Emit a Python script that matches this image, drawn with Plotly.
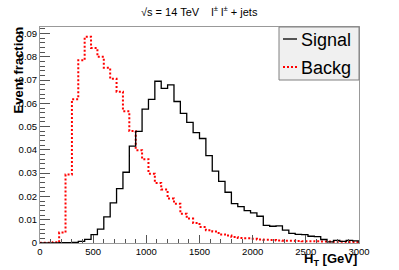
import plotly.graph_objects as go

# ---- data ----
bin_low = 0
bin_high = 3000
n_bins = 50
signal = [0, 0, 0, 0.0001, 0.0001, 0.0003, 0.0007, 0.0016, 0.0036, 0.0060,
          0.0112, 0.0172, 0.0234, 0.0304, 0.0416, 0.0480, 0.0575, 0.0617, 0.0695, 0.0664,
          0.0679, 0.0608, 0.0557, 0.0518, 0.0474, 0.0449, 0.0375, 0.0309, 0.0265, 0.0218,
          0.0169, 0.0156, 0.0139, 0.0129, 0.0115, 0.0076, 0.0072, 0.0074, 0.0055, 0.0041,
          0.0037, 0.0036, 0.0029, 0.0027, 0.0015, 0.0005, 0.0011, 0.0007, 0.0011, 0.0009]
backg = [0.0001, 0.0001, 0.0003, 0.0045, 0.0294, 0.0618, 0.0785, 0.0886, 0.0838, 0.0800,
         0.0753, 0.0706, 0.0650, 0.0566, 0.0481, 0.0399, 0.0360, 0.0298, 0.0258, 0.0230,
         0.0191, 0.0169, 0.0126, 0.0105, 0.0086, 0.0069, 0.0055, 0.0049, 0.0037, 0.0032,
         0.0026, 0.0021, 0.0020, 0.0018, 0.0015, 0.0014, 0.0013, 0.0011, 0.0010, 0.0010,
         0.0009, 0.0008, 0.0008, 0.0007, 0.0006, 0.0006, 0.0005, 0.0005, 0.0004, 0.0004]
x_ticks = [0, 500, 1000, 1500, 2000, 2500, 3000]
y_ticks = [0, 0.01, 0.02, 0.03, 0.04, 0.05, 0.06, 0.07, 0.08, 0.09]
y_tick_labels = ["0", "0.01", "0.02", "0.03", "0.04", "0.05", "0.06", "0.07", "0.08", "0.09"]
series_names = ["Signal", "Backg"]

width = (bin_high - bin_low) / n_bins
edges = [bin_low + i * width for i in range(n_bins + 1)]


def step_xy(vals):
    xs = [edges[0]] + edges[:-1] + [edges[-1], edges[-1]]
    ys = [0] + list(vals) + [vals[-1], 0]
    return xs, ys


FONT = "Liberation Sans, Arial, sans-serif"
fig = go.Figure()
xs, ys = step_xy(backg)
fig.add_trace(go.Scatter(x=xs, y=ys, mode="lines", line_shape="hv",
                         line=dict(color="#ff0000", width=2, dash="2px,2px"),
                         name=series_names[1], showlegend=False))
xs, ys = step_xy(signal)
fig.add_trace(go.Scatter(x=xs, y=ys, mode="lines", line_shape="hv",
                         line=dict(color="#000000", width=1.3),
                         name=series_names[0], showlegend=False))

L, R, T, B = 40, 40, 27, 27
W, H = 399, 270
pw, ph = W - L - R, H - T - B


def fx(px):
    return (px - L) / pw


def fy(py):
    return (H - B - py) / ph


shapes = [
    dict(type="rect", xref="paper", yref="paper", x0=fx(279), x1=1.0, y0=fy(80), y1=1.0,
         fillcolor="#f0f0f0", line=dict(color="#808080", width=1), layer="above"),
    dict(type="line", xref="paper", yref="paper", x0=fx(283), x1=fx(297), y0=fy(39), y1=fy(39),
         line=dict(color="#000000", width=1.3)),
    dict(type="line", xref="paper", yref="paper", x0=fx(283), x1=fx(297), y0=fy(67), y1=fy(67),
         line=dict(color="#ff0000", width=2, dash="2px,2px")),
]
annotations = [
    dict(text=series_names[0], xref="paper", yref="paper", x=fx(299), y=fy(40),
         xanchor="left", yanchor="middle", showarrow=False,
         font=dict(family=FONT, size=18, color="#000")),
    dict(text=series_names[1], xref="paper", yref="paper", x=fx(299), y=fy(68),
         xanchor="left", yanchor="middle", showarrow=False,
         font=dict(family=FONT, size=18, color="#000")),
    dict(text="√s = 14 TeV\u00a0\u00a0\u00a0\u00a0l<sup>±</sup> l<sup>±</sup> + jets",
         xref="paper", yref="paper", x=fx(200), y=fy(11),
         xanchor="center", yanchor="middle", showarrow=False,
         font=dict(family=FONT, size=11, color="#000")),
    dict(text="<b>H<sub>T</sub> [GeV]</b>", xref="paper", yref="paper", x=fx(359), y=fy(259),
         xanchor="right", yanchor="middle", showarrow=False,
         font=dict(family=FONT, size=13, color="#000")),
    dict(text="<b>Event fraction</b>", xref="paper", yref="paper", x=fx(18), y=fy(25),
         xanchor="center", yanchor="top", showarrow=False, textangle=-90,
         font=dict(family=FONT, size=13, color="#000")),
]

fig.update_layout(
    width=W, height=H,
    margin=dict(l=L, r=R, t=T, b=B, pad=0),
    paper_bgcolor="white", plot_bgcolor="white",
    shapes=shapes, annotations=annotations,
    showlegend=False,
    font=dict(family=FONT, size=9.5, color="#000"),
)
fig.update_xaxes(range=[bin_low, bin_high], tickvals=x_ticks, ticks="inside", ticklen=8,
                 tickcolor="#555", showgrid=False, zeroline=False, showline=True,
                 linecolor="#999", linewidth=1, mirror=True,
                 minor=dict(dtick=100, ticks="inside", ticklen=4, tickcolor="#555", showgrid=False),
                 tickfont=dict(size=9.5))
fig.update_yaxes(range=[0, 0.0928], tickvals=y_ticks, ticktext=y_tick_labels, ticks="inside",
                 ticklen=10, tickcolor="#555", showgrid=False, zeroline=False, showline=True,
                 linecolor="#999", linewidth=1, mirror=True,
                 minor=dict(dtick=0.002, ticks="inside", ticklen=5, tickcolor="#555", showgrid=False),
                 tickfont=dict(size=9.5))

fig.write_html("out.html", config={"displayModeBar": False},
               post_script="document.body.style.margin='0';document.body.style.padding='0';")
